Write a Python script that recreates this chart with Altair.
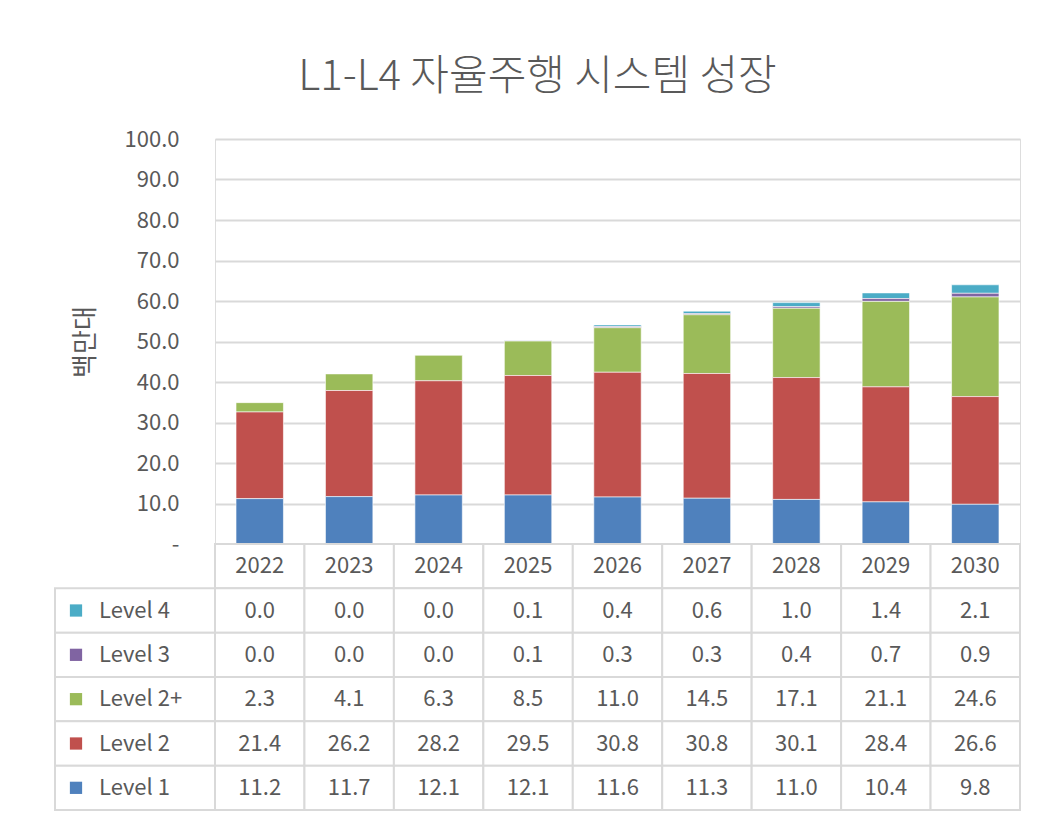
import altair as alt
import pandas as pd

years = ["2022", "2023", "2024", "2025", "2026", "2027", "2028", "2029", "2030"]
levels = ["Level 4", "Level 3", "Level 2+", "Level 2", "Level 1"]
level4 = [0.0, 0.0, 0.0, 0.1, 0.4, 0.6, 1.0, 1.4, 2.1]
level3 = [0.0, 0.0, 0.0, 0.1, 0.3, 0.3, 0.4, 0.7, 0.9]
level2p = [2.3, 4.1, 6.3, 8.5, 11.0, 14.5, 17.1, 21.1, 24.6]
level2 = [21.4, 26.2, 28.2, 29.5, 30.8, 30.8, 30.1, 28.4, 26.6]
level1 = [11.2, 11.7, 12.1, 12.1, 11.6, 11.3, 11.0, 10.4, 9.8]
colors = ["#4BACC6", "#8064A2", "#9BBB59", "#C0504D", "#4F81BD"]
y_ticks = [0, 10, 20, 30, 40, 50, 60, 70, 80, 90, 100]

series = {"Level 4": level4, "Level 3": level3, "Level 2+": level2p,
          "Level 2": level2, "Level 1": level1}
rows = []
for lv, vals in series.items():
    for yr, v in zip(years, vals):
        rows.append({"year": yr, "level": lv, "value": v,
                     "stack": 4 - levels.index(lv)})
df = pd.DataFrame(rows)

header_key = "Year"
row_domain = [header_key] + levels
cells = pd.DataFrame([{"year": yr, "row": r} for yr in years for r in row_domain])
header = pd.DataFrame({"year": years, "row": header_key})
labels_df = pd.DataFrame({"row": levels, "level": levels})

FONT = "Noto Sans CJK KR"
GRAY = "#595959"
LINE = "#d9d9d9"
W = 805
FS = 22

color_scale = alt.Scale(domain=levels, range=colors)

bars = alt.Chart(df).mark_bar(stroke="white", strokeWidth=0.6).encode(
    x=alt.X("year:N", sort=years, axis=None,
            scale=alt.Scale(paddingInner=0.47, paddingOuter=0.235)),
    y=alt.Y("value:Q", stack="zero",
            scale=alt.Scale(domain=[0, 100], nice=False),
            axis=alt.Axis(values=y_ticks, title="백만대",
                          labelExpr="datum.value == 0 ? '-' : format(datum.value, '.1f')",
                          labelFontSize=FS, labelColor=GRAY, labelFont=FONT,
                          labelPadding=36, ticks=False, domain=False,
                          gridColor=LINE, gridWidth=2,
                          titleFontSize=26, titleColor=GRAY, titleFont=FONT,
                          titleFontWeight="normal", titlePadding=26)),
    color=alt.Color("level:N", scale=color_scale, legend=None),
    order=alt.Order("stack:Q", sort="ascending"),
).properties(width=W, height=405)

y_row = alt.Y("row:N", sort=row_domain, axis=None,
              scale=alt.Scale(domain=row_domain, paddingInner=0, paddingOuter=0))
x_year = alt.X("year:N", sort=years, axis=None,
               scale=alt.Scale(domain=years, paddingInner=0, paddingOuter=0))

cell_rects = alt.Chart(cells).mark_rect(fill="white", stroke=LINE, strokeWidth=2).encode(
    x=x_year, y=y_row)
values_txt = alt.Chart(df).mark_text(fontSize=FS, color=GRAY, font=FONT).encode(
    x=x_year, y=alt.Y("level:N", sort=row_domain, axis=None,
                      scale=alt.Scale(domain=row_domain, paddingInner=0, paddingOuter=0)),
    text=alt.Text("value:Q", format=".1f"))
header_txt = alt.Chart(header).mark_text(fontSize=FS, color=GRAY, font=FONT).encode(
    x=x_year, y=y_row, text="year:N")
label_rects = alt.Chart(labels_df).mark_rect(fill="white", stroke=LINE, strokeWidth=2).encode(
    x=alt.value(-160), x2=alt.value(0), y=y_row)
label_keys = alt.Chart(labels_df).mark_point(shape="square", filled=True, size=150, opacity=1).encode(
    x=alt.value(-139), y=y_row,
    color=alt.Color("level:N", scale=color_scale, legend=None))
label_txt = alt.Chart(labels_df).mark_text(fontSize=FS, color=GRAY, font=FONT, align="left").encode(
    x=alt.value(-116), y=y_row, text="level:N")

table = alt.layer(cell_rects, label_rects, values_txt, header_txt, label_keys, label_txt).properties(
    width=W, height=266)

chart = alt.vconcat(bars, table, spacing=0, bounds="flush").resolve_scale(
    x="independent", y="independent"
).properties(
    title=alt.TitleParams("L1-L4 자율주행 시스템 성장", fontSize=42, color=GRAY,
                          font=FONT, fontWeight=300, anchor="middle", offset=29),
    padding={"left": 45, "top": 47, "right": 5, "bottom": 5},
).configure_view(stroke=None).configure(background="white")

chart.save("out.html", embed_options={"renderer": "svg", "actions": False})
